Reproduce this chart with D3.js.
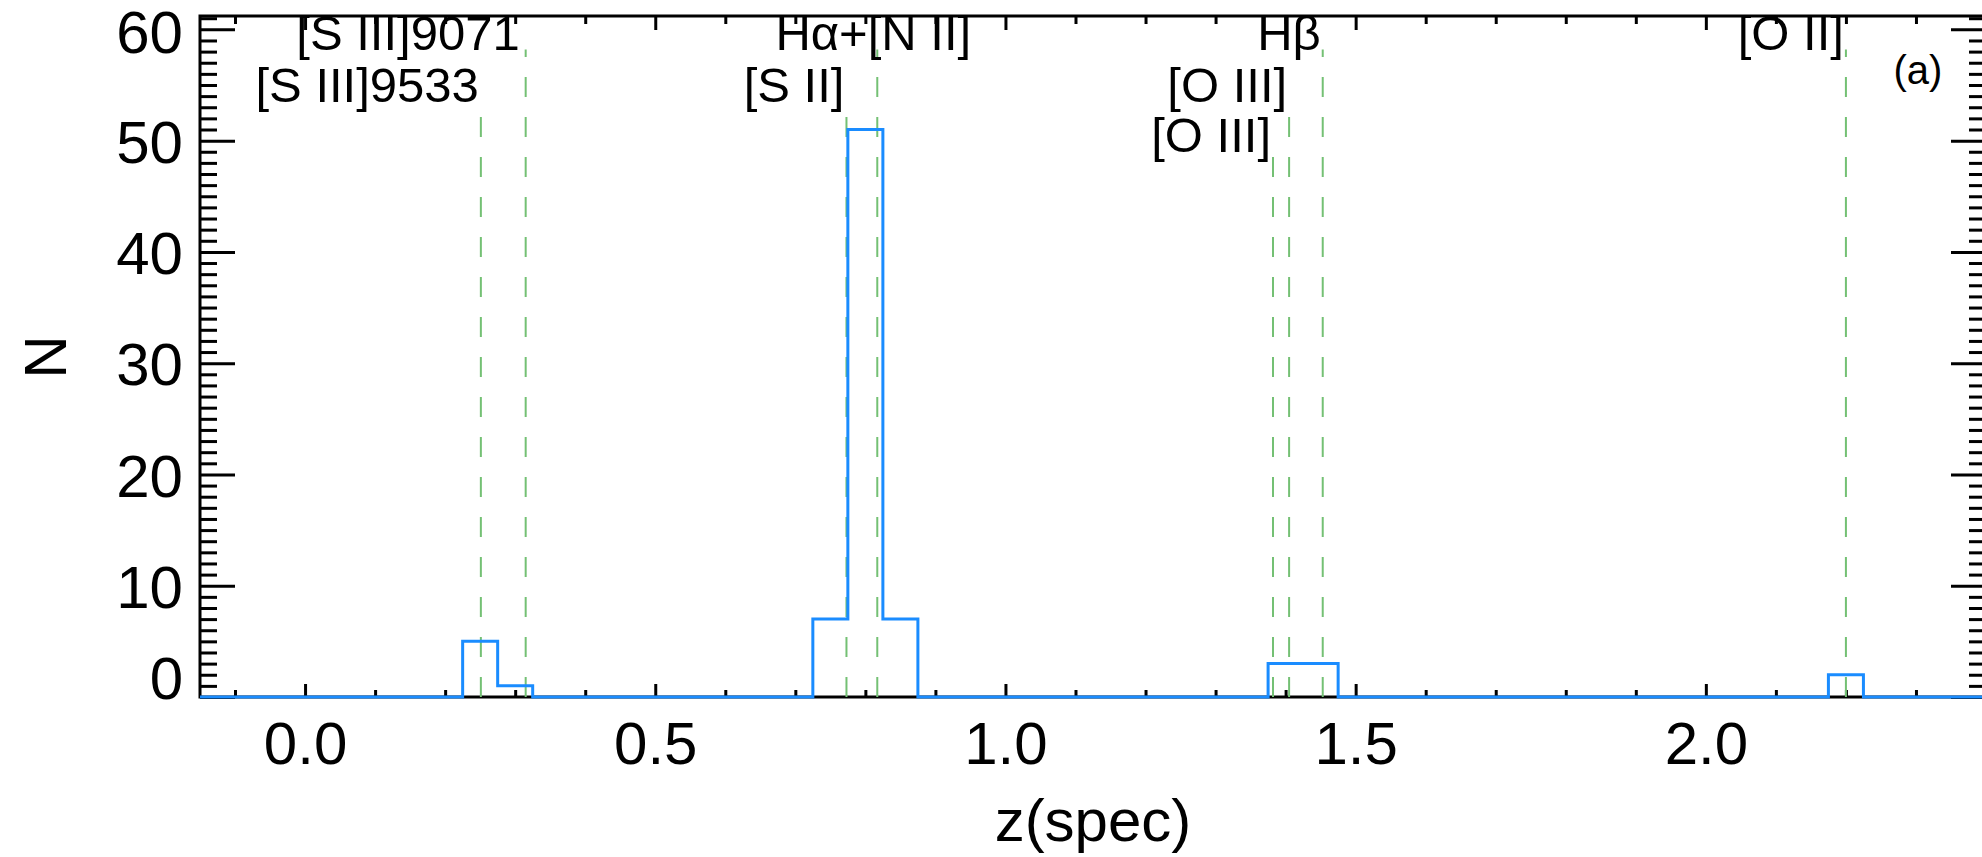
<!DOCTYPE html>
<html>
<head>
<meta charset="utf-8">
<script src="https://cdn.jsdelivr.net/npm/d3@7"></script>
<style>
  body { margin: 0; background: #fff; }
  text { font-family: "Liberation Sans", Arial, sans-serif; fill: #000; }
</style>
</head>
<body>
<svg id="chart"></svg>
<script>
// datos del histograma (N por bin de 0.05 en z)
const binCenters = [0.25, 0.30, 0.75, 0.80, 0.85, 1.40, 1.45, 2.20];
const binCounts = [5, 1, 7, 51, 7, 3, 3, 2];

// lineas de emision
const lineNames = ["[S III]9533", "[S III]9071", "[S II]", "H\u03B1+[N II]", "[O III]", "[O III]", "H\u03B2", "[O II]"];
const lineZ = [0.251, 0.315, 0.773, 0.817, 1.382, 1.405, 1.453, 2.200];

// ticks
const xMajor = [0.0, 0.5, 1.0, 1.5, 2.0];
const yMajor = [0, 10, 20, 30, 40, 50, 60];

// configuracion
const width = 1982;
const height = 857;
const mLeft = 200, mRight = 1986, mTop = 16, mBottom = 697;
const binWidth = 0.05;

// fila de cada etiqueta: 1 arriba, 3 abajo
const labelRow = [2, 1, 2, 1, 3, 2, 1, 1];
const rowBaseline = { 1: 50, 2: 102, 3: 152 };
const rowLineTop = { 1: 58.2, 2: 52.6, 3: 49.1 };

const svg = d3.select("#chart")
    .attr("width", width)
    .attr("height", height);

svg.append("rect").attr("width", width).attr("height", height).attr("fill", "#fff");

// escalas
const x = d3.scaleLinear().domain([-0.15, 2.4]).range([mLeft, mRight]);
const y = d3.scaleLinear().domain([0, 61.2]).range([mBottom, mTop]);

const xMinor = d3.range(-1, 25).map(i => +(i / 10).toFixed(1)).filter(v => !xMajor.includes(v));
const yMinor = d3.range(0, 62).filter(v => v % 10 !== 0);

const noDomain = g => g.select(".domain").remove();
const thick = g => g.selectAll("line").attr("stroke-width", 3);

// eje inferior
svg.append("g")
    .attr("transform", `translate(0,${mBottom})`)
    .call(d3.axisBottom(x).tickValues(xMajor).tickSize(-13).tickPadding(24)
        .tickFormat(d3.format(".1f")))
    .call(noDomain).call(thick)
    .call(g => g.selectAll("text").attr("font-size", 60).attr("dy", "0.71em"));
svg.append("g")
    .attr("transform", `translate(0,${mBottom})`)
    .call(d3.axisBottom(x).tickValues(xMinor).tickSize(-7).tickFormat(""))
    .call(noDomain).call(thick);

// eje superior
svg.append("g")
    .attr("transform", `translate(0,${mTop})`)
    .call(d3.axisTop(x).tickValues(xMajor).tickSize(-14).tickFormat(""))
    .call(noDomain).call(thick);
svg.append("g")
    .attr("transform", `translate(0,${mTop})`)
    .call(d3.axisTop(x).tickValues(xMinor).tickSize(-8).tickFormat(""))
    .call(noDomain).call(thick);

// eje izquierdo
svg.append("g")
    .attr("transform", `translate(${mLeft},0)`)
    .call(d3.axisLeft(y).tickValues(yMajor).tickSize(-35).tickPadding(17))
    .call(noDomain).call(thick)
    .call(g => g.selectAll("text").attr("font-size", 60).attr("dy", "0.36em"))
    .call(g => g.selectAll(".tick").filter(d => d === 0).select("text").attr("y", -20))
    .call(g => g.selectAll(".tick").filter(d => d === 60).select("text").attr("y", 2));
svg.append("g")
    .attr("transform", `translate(${mLeft},0)`)
    .call(d3.axisLeft(y).tickValues(yMinor).tickSize(-17).tickFormat(""))
    .call(noDomain).call(thick);

// eje derecho
svg.append("g")
    .attr("transform", `translate(${mRight},0)`)
    .call(d3.axisRight(y).tickValues(yMajor).tickSize(-35).tickFormat(""))
    .call(noDomain).call(thick);
svg.append("g")
    .attr("transform", `translate(${mRight},0)`)
    .call(d3.axisRight(y).tickValues(yMinor).tickSize(-17).tickFormat(""))
    .call(noDomain).call(thick);

// marco
svg.append("rect")
    .attr("x", mLeft).attr("y", mTop)
    .attr("width", mRight - mLeft).attr("height", mBottom - mTop)
    .attr("fill", "none").attr("stroke", "#000").attr("stroke-width", 3);

// lineas de emision (discontinuas, desde abajo)
svg.selectAll(".eline")
    .data(lineZ)
    .enter()
    .append("line")
    .attr("class", "eline")
    .attr("x1", d => x(d)).attr("x2", d => x(d))
    .attr("y1", y(0))
    .attr("y2", (d, i) => y(rowLineTop[labelRow[i]]))
    .attr("stroke", "#74c074")
    .attr("stroke-width", 2)
    .attr("stroke-dasharray", "20,20");

// histograma
const allBins = d3.range(52).map(i => +(-0.15 + i * binWidth).toFixed(2));
const histo = allBins.map(c => {
    const k = binCenters.findIndex(b => Math.abs(b - c) < 1e-6);
    return [c, k >= 0 ? binCounts[k] : 0];
});
svg.append("path")
    .datum(histo)
    .attr("fill", "none")
    .attr("stroke", "#1a8cff")
    .attr("stroke-width", 3)
    .attr("d", d3.line().x(d => x(d[0])).y(d => y(d[1])).curve(d3.curveStep));

// etiquetas de lineas
svg.selectAll(".elabel")
    .data(lineNames)
    .enter()
    .append("text")
    .attr("class", "elabel")
    .attr("x", (d, i) => d.startsWith("H\u03B1") ? x(lineZ[i]) - 4 : x(lineZ[i]) - (d === "[S III]9071" ? 6 : 2))
    .attr("y", (d, i) => rowBaseline[labelRow[i]])
    .attr("text-anchor", d => d.startsWith("H\u03B1") ? "middle" : "end")
    .attr("font-size", 49)
    .text(d => d);

// titulos
svg.append("text")
    .attr("x", (mLeft + mRight) / 2)
    .attr("y", 841)
    .attr("text-anchor", "middle")
    .attr("font-size", 60)
    .text("z(spec)");

svg.append("text")
    .attr("transform", "translate(66,357) rotate(-90)")
    .attr("text-anchor", "middle")
    .attr("font-size", 60)
    .text("N");

svg.append("text")
    .attr("x", 1918)
    .attr("y", 84)
    .attr("text-anchor", "middle")
    .attr("font-size", 40)
    .text("(a)");
</script>
</body>
</html>
